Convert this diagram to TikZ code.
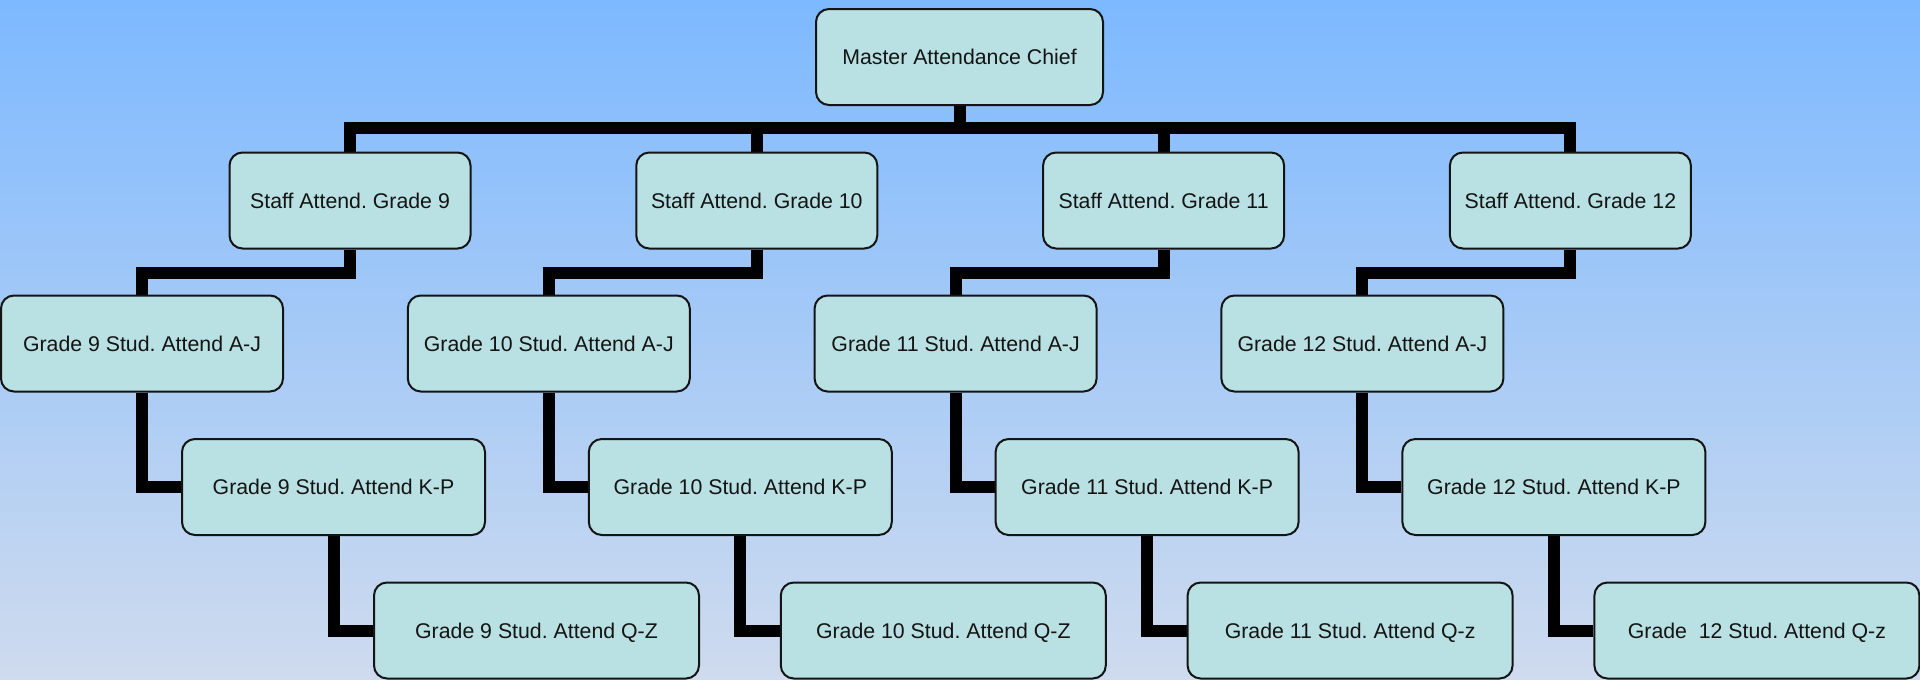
\documentclass[tikz,border=0pt]{standalone}
\usepackage{fontspec}
\setmainfont{Liberation Sans}
\frenchspacing
% drawing order: sky backdrop, then the thick connectors, then the boxes
\pgfdeclarelayer{backdrop}
\pgfdeclarelayer{wires}
\pgfsetlayers{backdrop,wires,main}
\definecolor{skytop}{RGB}{125,185,255}
\definecolor{skymid}{RGB}{162,201,246}
\definecolor{skybot}{RGB}{207,219,238}
\definecolor{boxfill}{RGB}{185,224,226}
\definecolor{boxline}{RGB}{20,20,20}
\begin{document}
\begin{tikzpicture}[x=1pt,y=-1pt,
  unit/.style={draw=boxline, line width=2pt, fill=boxfill, rounded corners=13pt,
    minimum height=96pt, inner sep=0pt, text height=15.3pt, text depth=0pt,
    font=\fontsize{21.3}{25}\selectfont, text=black!92},
  head/.style={unit, minimum width=287pt},
  staffbox/.style={unit, minimum width=241pt},
  ajbox/.style={unit, minimum width=282pt},
  kpbox/.style={unit, minimum width=303pt},
  qzbox/.style={unit, minimum width=325pt},
  wire/.style={line width=12pt, draw=black, line join=miter, line cap=butt}]

\useasboundingbox (0,0) rectangle (1920,680);
\begin{pgfonlayer}{backdrop}
  \shade[top color=skytop, middle color=skymid, bottom color=skybot] (0,0) rectangle (1920,680);
\end{pgfonlayer}

% head
\node[head] (mac) at (959.5,57) {Master Attendance Chief};

% grade 9
\node[staffbox] (st9) at (350,200.5)   {Staff Attend. Grade 9};
\node[ajbox]    (aj9) at (142,343.5)   {Grade 9 Stud. Attend A-J};
\node[kpbox]    (kp9) at (333.5,487)   {Grade 9 Stud. Attend K-P};
\node[qzbox]    (qz9) at (536.5,630.5) {Grade 9 Stud. Attend Q-Z};

% grade 10
\node[staffbox] (st10) at (756.8,200.5) {Staff Attend. Grade 10};
\node[ajbox]    (aj10) at (548.8,343.5) {Grade 10 Stud. Attend A-J};
\node[kpbox]    (kp10) at (740.3,487)   {Grade 10 Stud. Attend K-P};
\node[qzbox]    (qz10) at (943.3,630.5) {Grade 10 Stud. Attend Q-Z};

% grade 11
\node[staffbox] (st11) at (1163.6,200.5) {Staff Attend. Grade 11};
\node[ajbox]    (aj11) at (955.6,343.5)  {Grade 11 Stud. Attend A-J};
\node[kpbox]    (kp11) at (1147.1,487)   {Grade 11 Stud. Attend K-P};
\node[qzbox]    (qz11) at (1350.1,630.5) {Grade 11 Stud. Attend Q-z};

% grade 12
\node[staffbox] (st12) at (1570.4,200.5) {Staff Attend. Grade 12};
\node[ajbox]    (aj12) at (1362.4,343.5) {Grade 12 Stud. Attend A-J};
\node[kpbox]    (kp12) at (1553.9,487)   {Grade 12 Stud. Attend K-P};
\node[qzbox]    (qz12) at (1756.9,630.5) {Grade\ \ 12 Stud. Attend Q-z};

\begin{pgfonlayer}{wires}
  \foreach \g in {9,10,11,12}{
    \draw[wire] (mac.south) -- ++(0,22) -| (st\g.north);
    \draw[wire] (st\g.south) -- ++(0,23) -| (aj\g.north);
    \draw[wire] (aj\g.south) |- (kp\g.west);
    \draw[wire] (kp\g.south) |- (qz\g.west);
  }
\end{pgfonlayer}
\end{tikzpicture}
\end{document}
